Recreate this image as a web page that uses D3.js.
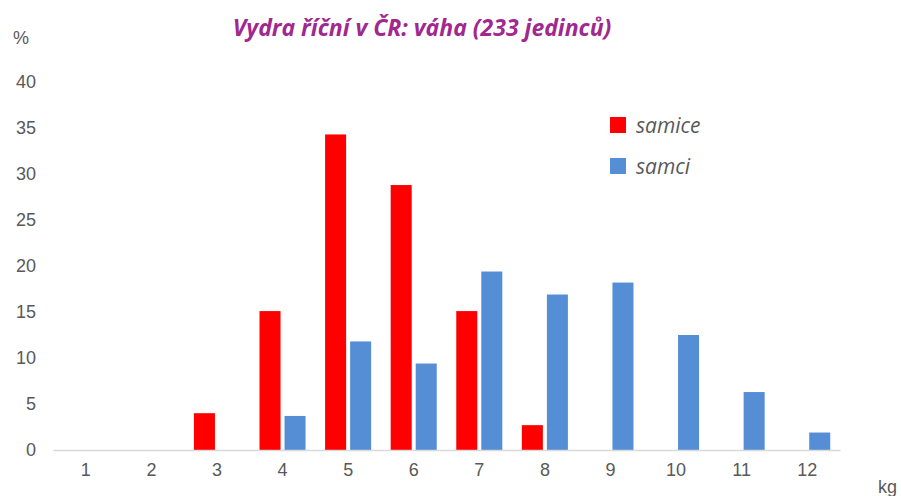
<!DOCTYPE html>
<html>
<head>
<meta charset="utf-8">
<script src="https://cdn.jsdelivr.net/npm/d3@7"></script>
<style>
  body { margin: 0; background: #fff; }
  svg { display: block; }
</style>
</head>
<body>
<svg id="chart"></svg>
<script>
// Data
const categories = ["1", "2", "3", "4", "5", "6", "7", "8", "9", "10", "11", "12"];
const seriesNames = ["samice", "samci"];
const samice = [0, 0, 4.0, 15.1, 34.3, 28.8, 15.1, 2.7, 0, 0, 0, 0];
const samci = [0, 0, 0, 3.7, 11.8, 9.4, 19.4, 16.9, 18.2, 12.5, 6.3, 1.9];
const yTicks = [0, 5, 10, 15, 20, 25, 30, 35, 40];
const colors = ["#FF0000", "#558ED5"];

const width = 901, height = 496;
const margin = { top: 82, right: 61, bottom: 46, left: 53 };

const svg = d3.select("#chart").attr("width", width).attr("height", height);

const x = d3.scaleBand()
  .domain(categories)
  .range([margin.left, width - margin.right])
  .padding(0);

const xInner = d3.scaleBand()
  .domain(seriesNames)
  .range([0, x.bandwidth()])
  .paddingInner(0.16)
  .paddingOuter(0.39);

const y = d3.scaleLinear()
  .domain([0, 40])
  .range([height - margin.bottom, margin.top]);

// y axis labels (no line)
const yAxis = d3.axisLeft(y).tickValues(yTicks).tickSize(0).tickPadding(0);
const gy = svg.append("g")
  .attr("transform", "translate(36,0)")
  .call(yAxis);
gy.select(".domain").remove();
gy.selectAll("text")
  .attr("fill", "#595959")
  .style("font-family", "'Liberation Sans', Arial, sans-serif")
  .style("font-size", "18px");

// bars
const series = [samice, samci];
series.forEach((vals, si) => {
  svg.append("g")
    .selectAll("rect")
    .data(vals.map((v, i) => ({ cat: categories[i], v: v })).filter(d => d.v > 0))
    .join("rect")
    .attr("x", d => x(d.cat) + xInner(seriesNames[si]))
    .attr("width", xInner.bandwidth())
    .attr("y", d => y(d.v))
    .attr("height", d => y(0) - y(d.v))
    .attr("fill", colors[si]);
});

// x axis
const xAxis = d3.axisBottom(x).tickSize(0).tickPadding(13);
const gx = svg.append("g")
  .attr("transform", "translate(0," + y(0) + ")")
  .call(xAxis);
gx.select(".domain").attr("stroke", "#D9D9D9").attr("stroke-width", 1.3);
gx.selectAll("text")
  .attr("fill", "#595959")
  .style("font-family", "'Liberation Sans', Arial, sans-serif")
  .style("font-size", "18px");

// title
svg.append("text")
  .attr("x", 422)
  .attr("y", 36)
  .attr("text-anchor", "middle")
  .attr("fill", "#A0288F")
  .style("font-family", "'Open Sans', sans-serif")
  .style("font-weight", "bold")
  .style("font-style", "italic")
  .style("font-size", "23px")
  .text("Vydra říční v ČR: váha (233 jedinců)");

// unit labels
svg.append("text")
  .attr("x", 13)
  .attr("y", 44)
  .attr("fill", "#595959")
  .style("font-family", "'Liberation Sans', Arial, sans-serif")
  .style("font-size", "18px")
  .text("%");

svg.append("text")
  .attr("x", 878)
  .attr("y", 493)
  .attr("fill", "#595959")
  .style("font-family", "'Liberation Sans', Arial, sans-serif")
  .style("font-size", "18px")
  .text("kg");

// legend
const legend = svg.append("g").attr("transform", "translate(610,117)");
seriesNames.forEach((name, i) => {
  const row = legend.append("g").attr("transform", "translate(0," + i * 41 + ")");
  row.append("rect")
    .attr("width", 16)
    .attr("height", 16)
    .attr("fill", colors[i]);
  row.append("text")
    .attr("x", 26)
    .attr("y", 16)
    .attr("fill", "#595959")
    .style("font-family", "'Open Sans', sans-serif")
    .style("font-style", "italic")
    .style("font-size", "21px")
    .text(name);
});
</script>
</body>
</html>
